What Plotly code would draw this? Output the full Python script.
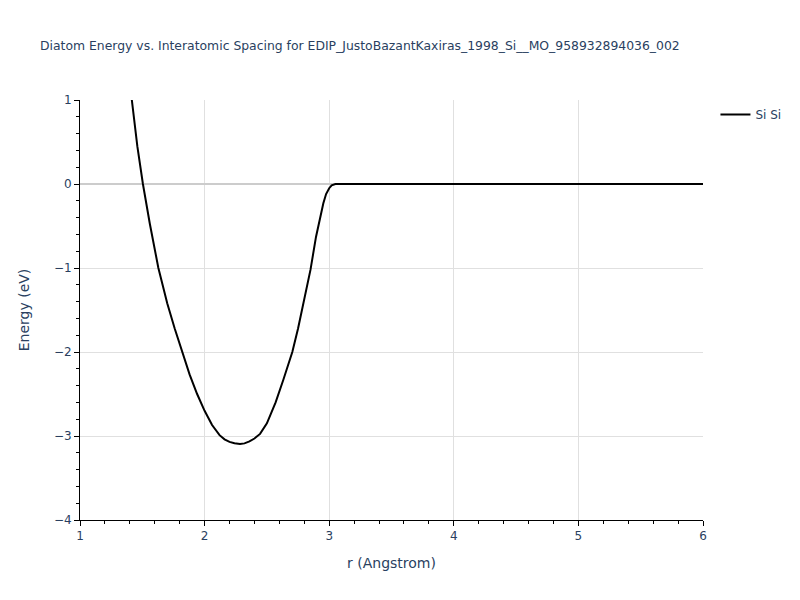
import plotly.graph_objects as go

r_values = [1.38, 1.417, 1.46, 1.505, 1.56, 1.629, 1.70, 1.76, 1.821, 1.88, 1.94,
            2.00, 2.06, 2.12, 2.16, 2.20, 2.24, 2.284, 2.32, 2.36, 2.40, 2.445, 2.50, 2.57, 2.632,
            2.67, 2.704, 2.75, 2.80, 2.85, 2.894, 2.92, 2.953, 2.975, 3.00, 3.02, 3.035, 3.05,
            3.5, 4.0, 4.5, 5.0, 5.5, 6.0]
energy_values = [1.45, 1.0, 0.45, 0.0, -0.47, -1.0, -1.42, -1.72, -2.0, -2.27, -2.50,
                 -2.70, -2.87, -2.99, -3.04, -3.07, -3.087, -3.095, -3.088, -3.065, -3.03, -2.975, -2.85, -2.60, -2.33,
                 -2.17, -2.0, -1.72, -1.38, -1.02, -0.63, -0.44, -0.23, -0.12, -0.05, -0.015, -0.003, 0.0,
                 0.0, 0.0, 0.0, 0.0, 0.0, 0.0]

title_text = "Diatom Energy vs. Interatomic Spacing for EDIP_JustoBazantKaxiras_1998_Si__MO_958932894036_002"

fig = go.Figure()
fig.add_trace(go.Scatter(x=r_values, y=energy_values, mode="lines", name="Si Si",
                         line=dict(color="black", width=2)))

axis_common = dict(
    showline=True, linecolor="black", linewidth=1,
    ticks="outside", ticklen=5, tickcolor="black",
    showgrid=True, gridcolor="#e0e0e0", gridwidth=1,
    tickfont=dict(color="#2a3f5f", size=12),
    automargin=False,
)

fig.update_layout(
    width=784, height=584,
    margin=dict(l=72, r=89, t=92, b=72, autoexpand=False),
    title=dict(text=title_text, font=dict(size=12.4, color="#2a3f5f"),
               x=32 / 784, xanchor="left", y=1 - 38 / 584, yanchor="middle"),
    paper_bgcolor="white", plot_bgcolor="white",
    font=dict(family="DejaVu Sans, Verdana, sans-serif", color="#2a3f5f"),
    showlegend=True,
    legend=dict(x=1.02, y=1, xanchor="left", yanchor="top", font=dict(size=12)),
    xaxis=dict(range=[1, 6], title=dict(text="r (Angstrom)", font=dict(size=14)),
               dtick=1, zeroline=False,
               minor=dict(ticks="outside", dtick=0.2, ticklen=3, tickcolor="black", showgrid=False),
               **axis_common),
    yaxis=dict(range=[-4, 1], title=dict(text="Energy (eV)", font=dict(size=14), standoff=20),
               dtick=1, zeroline=True, zerolinecolor="#cccccc", zerolinewidth=2,
               minor=dict(ticks="outside", dtick=0.2, ticklen=3, tickcolor="black", showgrid=False),
               **axis_common),
)

fig.write_html("out.html")
